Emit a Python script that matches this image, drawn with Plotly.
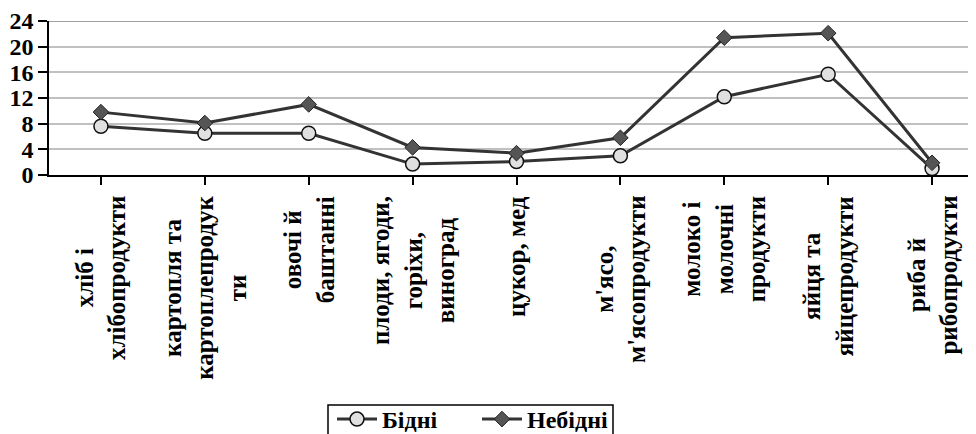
import plotly.graph_objects as go

categories = [
    'хліб і<br>хлібопродукти',
    'картопля та<br>картоплепродук<br>ти',
    'овочі й<br>баштанні',
    'плоди, ягоди,<br>горіхи,<br>виноград',
    'цукор, мед',
    "м'ясо,<br>м'ясопродукти",
    'молоко і<br>молочні<br>продукти',
    'яйця та<br>яйцепродукти',
    'риба й<br>рибопродукти',
]
poor = [7.6, 6.5, 6.5, 1.7, 2.1, 3.0, 12.2, 15.7, 1.0]
non_poor = [9.8, 8.1, 11.0, 4.3, 3.4, 5.8, 21.4, 22.1, 1.9]
y_ticks = [0, 4, 8, 12, 16, 20, 24]

font = 'Liberation Serif'
x = list(range(len(categories)))

# page body adds an 8px offset, so the figure is laid out 8px up/left;
# the figure is taller than the window so the legend box runs off the bottom
off = 8
fig_h = 470
left, top, bottom = 49 - off, 21 - off, 175 - off
plot_h = bottom - top
plot_w = 976 - left


def px(sx):
    return (sx - 49) / plot_w


def py(sy):
    return (175 - sy) / plot_h


fig = go.Figure()
fig.add_trace(go.Scatter(
    x=x, y=poor, name='Бідні', mode='lines+markers',
    line=dict(color='#333333', width=3),
    marker=dict(symbol='circle', size=14, color='#e0e0e0',
                line=dict(color='#111111', width=1.5)),
))
fig.add_trace(go.Scatter(
    x=x, y=non_poor, name='Небідні', mode='lines+markers',
    line=dict(color='#333333', width=3),
    marker=dict(symbol='diamond', size=12, color='#555555',
                line=dict(color='#222222', width=1)),
))

# category labels as centred, rotated annotations
for i, c in enumerate(categories):
    fig.add_annotation(
        x=i, y=-19 / plot_h, xref='x', yref='paper',
        text='<b>' + c + '</b>', textangle=-90, showarrow=False,
        xanchor='center', yanchor='top', align='center',
        font=dict(family=font, size=25, color='black'),
    )

# darker top border line
fig.add_shape(type='line', xref='paper', yref='y', x0=0, x1=1, y0=24, y1=24,
              line=dict(color='#808080', width=1.5))
# legend frame (drawn separately so the items sit close to its top edge)
fig.add_shape(type='rect', xref='paper', yref='paper',
              x0=px(328), x1=px(613), y0=py(405), y1=py(470),
              line=dict(color='black', width=1.5), fillcolor='rgba(0,0,0,0)')

fig.update_layout(
    width=976, height=fig_h,
    margin=dict(l=left, r=0, t=top, b=fig_h - bottom),
    plot_bgcolor='white', paper_bgcolor='white',
    font=dict(family=font, color='black'),
    showlegend=True,
    legend=dict(
        orientation='h', xref='paper', yref='paper',
        x=px(332), y=py(397),
        xanchor='left', yanchor='top',
        borderwidth=0, bgcolor='rgba(0,0,0,0)',
        font=dict(family=font, size=24, color='black', weight='bold'),
        itemwidth=40, entrywidth=90,
    ),
    xaxis=dict(
        range=[-0.5, 8.5], tickmode='array', tickvals=x, ticktext=[''] * len(x),
        tickson='boundaries', ticks='outside', ticklen=8, tickwidth=1.5,
        tickcolor='black', showline=True, linecolor='black', linewidth=1.5,
        showgrid=False, zeroline=False, automargin=False,
    ),
    yaxis=dict(
        range=[0, 24], tickmode='array', tickvals=y_ticks,
        ticks='outside', ticklen=9, tickwidth=1.5, tickcolor='black',
        showline=True, linecolor='black', linewidth=1.5,
        gridcolor='#c0c0c0', gridwidth=1.5, zeroline=False, automargin=False,
        tickfont=dict(family=font, size=24, color='black', weight='bold'),
    ),
)

fig.write_html('out.html')
